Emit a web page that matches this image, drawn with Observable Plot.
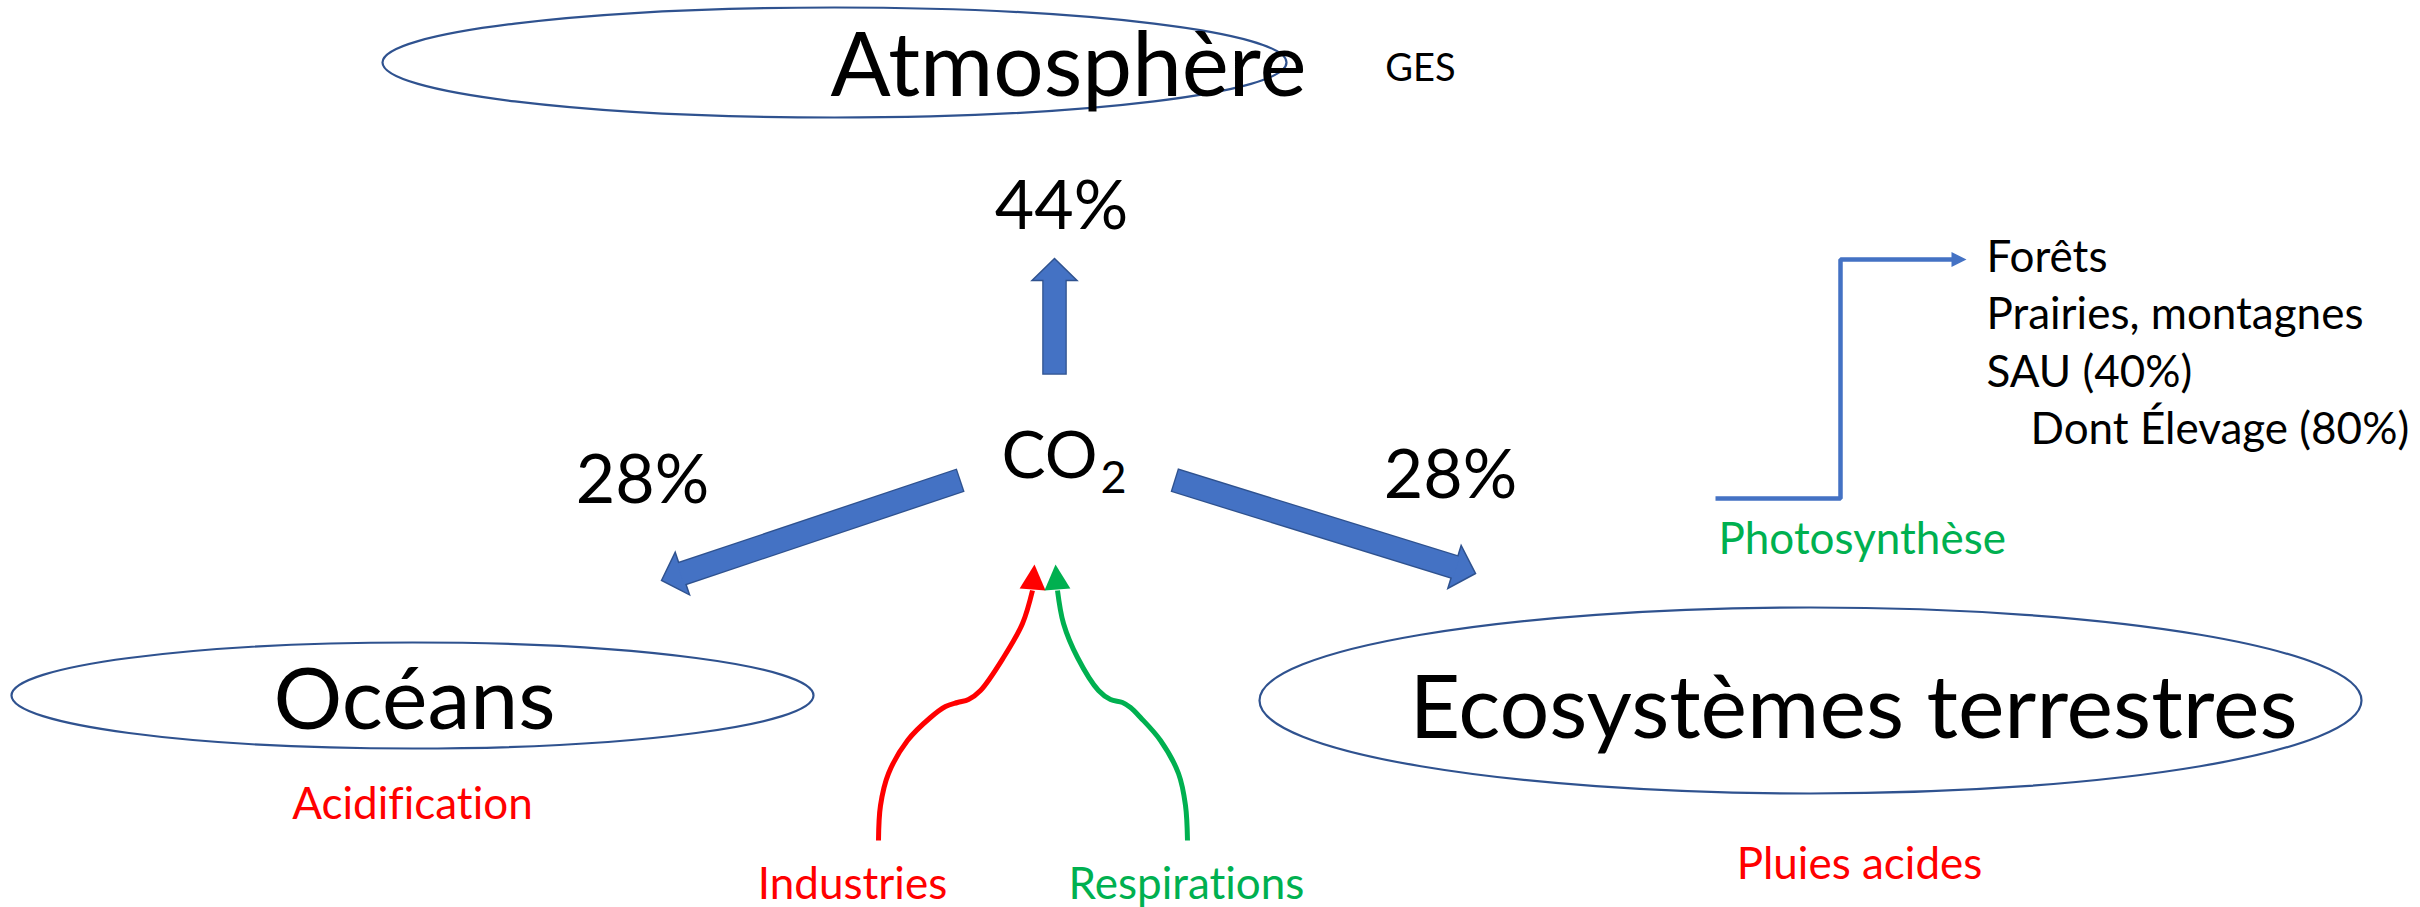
<!DOCTYPE html>
<html><head><meta charset="utf-8">
<script src="https://cdn.jsdelivr.net/npm/d3@7"></script>
<script src="https://cdn.jsdelivr.net/npm/@observablehq/plot@0.6"></script>
<style>
html,body{margin:0;padding:0;background:#fff;}
svg{display:block}
svg text{font-variant-ligatures:none;font-feature-settings:"liga" 0,"clig" 0,"dlig" 0;}
</style>
</head><body><div id="chart"></div>
<script>
// ---------- data (values & labels) ----------
const reservoirs = ["Atmosphère", "Océans", "Ecosystèmes terrestres"];
const reservoirNotes = ["GES", "Acidification", "Pluies acides"];
const shares = [44, 28, 28];               // Atmosphère, Océans, Ecosystèmes terrestres
const molecule = ["CO", "2"];
const sources = ["Industries", "Respirations"];
const sink = ["Photosynthèse"];
const landUses = ["Forêts", "Prairies, montagnes", "SAU (40%)", "Dont Élevage (80%)"];
const landIndent = [0, 0, 0, 1];

// ---------- colours ----------
const RED = "#FF0000", GREEN = "#00B050", BLUE = "#4472C4", DARK = "#2F528F";

// ---------- layout (diagram units = pixels) ----------
const W = 2420, H = 907;
const ellipseLayout = [
  {cx: 834, cy: 62, rx: 452, ry: 55},
  {cx: 412, cy: 695, rx: 401, ry: 53},
  {cx: 1810, cy: 700, rx: 551, ry: 93}
];
const reservoirLabelPos = [{x: 1068, y: 95, size: 89}, {x: 414, y: 728, size: 86}, {x: 1853, y: 737, size: 88}];
const notePos = [{x: 1420, y: 80, size: 38, color: "#000"}, {x: 412, y: 818, size: 44, color: RED}, {x: 1859, y: 878, size: 44, color: RED}];
const sharePos = [{x: 1061, y: 228}, {x: 642, y: 502}, {x: 1450, y: 497}];
const flowArrows = [
  {x1: 1054, y1: 373, x2: 1054, y2: 258},
  {x1: 959, y1: 480, x2: 661, y2: 580},
  {x1: 1175, y1: 480, x2: 1475, y2: 573}
];
const moleculePos = [{x: 1097, y: 477, size: 66, anchor: "end"}, {x: 1100, y: 492, size: 45, anchor: "start"}];
const sourcePos = [{x: 852, y: 898, color: RED}, {x: 1186, y: 898, color: GREEN}];
const sourcePaths = [
  [[878,840],[880,805],[888,773],[907,740],[930,717],[945,706],[957,702],[968,699],[980,690],[1003,657],[1022,623],[1032,590]],
  [[1187,840],[1185,805],[1178,773],[1160,740],[1140,717],[1130,707],[1122,702],[1110,699],[1098,690],[1077,657],[1063,623],[1057,590]]
];
const sourceTips = [[1034, 564], [1055, 564]];
const sinkPos = {x: 1718, y: 553};
const stepPath = [[1715,498],[1840,498],[1840,259],[1953,259]];
const stepTip = [1966, 259];
const landPos = {x: 1986, y0: 271, dy: 57.5, indent: 44, size: 44};

// ---------- helpers ----------
function ellipseSymbol(rx, ry) {
  const k = 0.5522847;
  return {draw(ctx) {
    ctx.moveTo(rx, 0);
    ctx.bezierCurveTo(rx, ry * k, rx * k, ry, 0, ry);
    ctx.bezierCurveTo(-rx * k, ry, -rx, ry * k, -rx, 0);
    ctx.bezierCurveTo(-rx, -ry * k, -rx * k, -ry, 0, -ry);
    ctx.bezierCurveTo(rx * k, -ry, rx, -ry * k, rx, 0);
    ctx.closePath();
  }};
}
function headSymbol(dx, dy, w, l) {
  const len = Math.hypot(dx, dy), ux = dx / len, uy = dy / len, px = -uy, py = ux;
  return {draw(ctx) {
    ctx.moveTo(0, 0);
    ctx.lineTo(-ux * l + px * w / 2, -uy * l + py * w / 2);
    ctx.lineTo(-ux * l - px * w / 2, -uy * l - py * w / 2);
    ctx.closePath();
  }};
}
const BLOCK = {shaft: 22, head: 45, len: 22};
const blocks = flowArrows.map(a => {
  const dx = a.x2 - a.x1, dy = a.y2 - a.y1, L = Math.hypot(dx, dy), ux = dx / L, uy = dy / L;
  return {...a, dx, dy,
    bx: a.x2 - ux * BLOCK.len, by: a.y2 - uy * BLOCK.len,
    ox: a.x1 - ux * 1.3, oy: a.y1 - uy * 1.3,
    ix: a.x2 - ux * (BLOCK.len - 2), iy: a.y2 - uy * (BLOCK.len - 2)};
});

const FONT = "Lato, 'Open Sans', sans-serif";
const marks = [];

// reservoirs (ellipses)
ellipseLayout.forEach(e => {
  marks.push(Plot.dot([e], {x: "cx", y: "cy", r: 5, symbol: ellipseSymbol(e.rx, e.ry), fill: "none", stroke: DARK, strokeWidth: 2.2}));
});
// reservoir labels
reservoirs.forEach((t, i) => {
  const p = reservoirLabelPos[i];
  marks.push(Plot.text([t], {x: () => p.x, y: () => p.y, text: d => d, fontSize: p.size, lineAnchor: "bottom", fill: "#000", fontFamily: FONT}));
});
reservoirNotes.forEach((t, i) => {
  const p = notePos[i];
  marks.push(Plot.text([t], {x: () => p.x, y: () => p.y, text: d => d, fontSize: p.size, lineAnchor: "bottom", fill: p.color, fontFamily: FONT}));
});
// block arrows
marks.push(Plot.link(blocks, {x1: "ox", y1: "oy", x2: "bx", y2: "by", stroke: DARK, strokeWidth: BLOCK.shaft + 2.6, strokeLinecap: "butt"}));
blocks.forEach(b => {
  marks.push(Plot.dot([b], {x: "x2", y: "y2", r: 5, symbol: headSymbol(b.dx, b.dy, BLOCK.head, BLOCK.len), fill: BLUE, stroke: DARK, strokeWidth: 1.5, strokeLinejoin: "miter"}));
});
marks.push(Plot.link(blocks, {x1: "x1", y1: "y1", x2: "ix", y2: "iy", stroke: BLUE, strokeWidth: BLOCK.shaft, strokeLinecap: "butt"}));
// shares
shares.forEach((v, i) => {
  const p = sharePos[i];
  marks.push(Plot.text([v], {x: () => p.x, y: () => p.y, text: d => `${d}%`, fontSize: 68, lineAnchor: "bottom", fill: "#000", fontFamily: FONT}));
});
// CO2
molecule.forEach((t, i) => {
  const p = moleculePos[i];
  marks.push(Plot.text([t], {x: () => p.x, y: () => p.y, text: d => d, fontSize: p.size, textAnchor: p.anchor, lineAnchor: "bottom", fill: "#000", fontFamily: FONT}));
});
// sources
sources.forEach((t, i) => {
  const p = sourcePos[i];
  const pts = sourcePaths[i], tip = sourceTips[i], last = pts[pts.length - 1];
  marks.push(Plot.line(pts, {x: d => d[0], y: d => d[1], curve: "catmull-rom", stroke: p.color, strokeWidth: 5, strokeLinecap: "butt"}));
  marks.push(Plot.dot([tip], {x: d => d[0], y: d => d[1], r: 5, symbol: headSymbol(tip[0] - last[0], tip[1] - last[1], 26, 25), fill: p.color, stroke: "none"}));
  marks.push(Plot.text([t], {x: () => p.x, y: () => p.y, text: d => d, fontSize: 44, lineAnchor: "bottom", fill: p.color, fontFamily: FONT}));
});
// photosynthesis step arrow
marks.push(Plot.line(stepPath, {x: d => d[0], y: d => d[1], stroke: BLUE, strokeWidth: 4.5, strokeLinejoin: "miter", strokeLinecap: "butt"}));
{
  const last = stepPath[stepPath.length - 1];
  marks.push(Plot.dot([stepTip], {x: d => d[0], y: d => d[1], r: 5, symbol: headSymbol(stepTip[0] - last[0], stepTip[1] - last[1], 15, 15), fill: BLUE, stroke: "none"}));
}
marks.push(Plot.text(sink, {x: () => sinkPos.x, y: () => sinkPos.y, text: d => d, fontSize: 44, textAnchor: "start", lineAnchor: "bottom", fill: GREEN, fontFamily: FONT}));
// land uses
marks.push(Plot.text(landUses, {
  x: (d, i) => landPos.x + landIndent[i] * landPos.indent,
  y: (d, i) => landPos.y0 + i * landPos.dy,
  text: d => d, fontSize: landPos.size, textAnchor: "start", lineAnchor: "bottom", fill: "#000", fontFamily: FONT
}));

const chart = Plot.plot({
  width: W, height: H, margin: 0,
  x: {domain: [0, W], range: [0, W], axis: null},
  y: {domain: [0, H], range: [0, H], axis: null},
  style: {background: "#fff", fontFamily: FONT},
  marks
});
document.getElementById("chart").appendChild(chart);
</script>
</body></html>
